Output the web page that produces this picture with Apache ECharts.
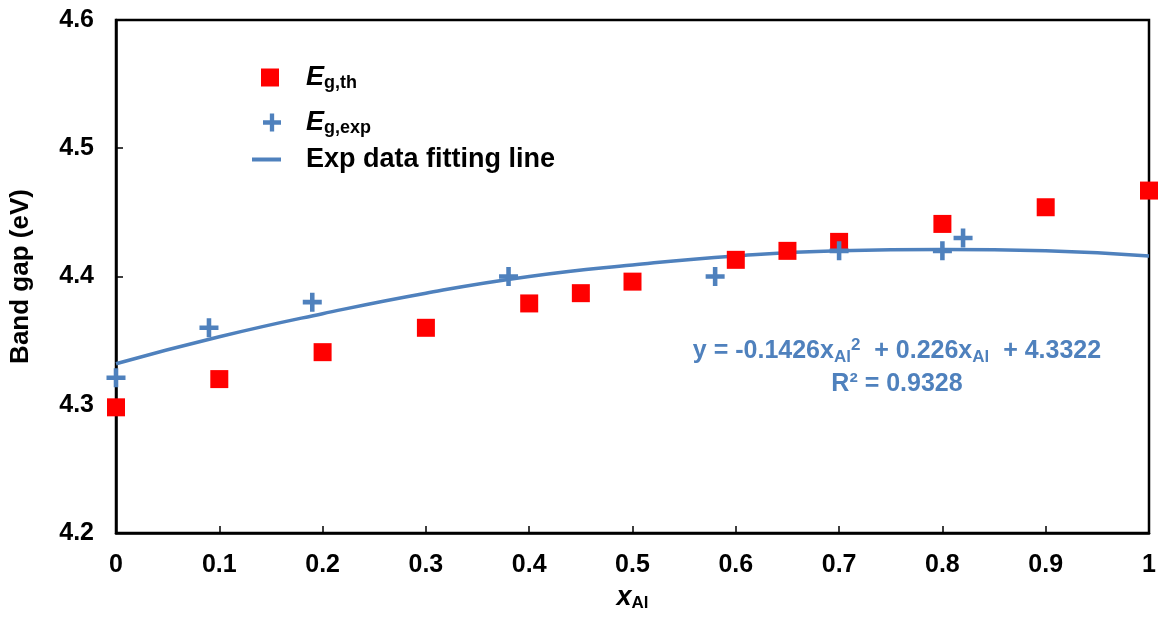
<!DOCTYPE html>
<html><head><meta charset="utf-8">
<script src="https://cdn.jsdelivr.net/npm/echarts@6/dist/echarts.min.js"></script>
<style>html,body{margin:0;padding:0;background:#fff}#c{width:1160px;height:617px}</style>
</head><body><div id="c"></div>
<script>
const thX = [0, 0.1, 0.2, 0.3, 0.4, 0.45, 0.5, 0.6, 0.65, 0.7, 0.8, 0.9, 1.0];
const thY = [4.298, 4.320, 4.341, 4.360, 4.379, 4.387, 4.396, 4.413, 4.420, 4.427, 4.441, 4.454, 4.467];
const expX = [0, 0.09, 0.19, 0.38, 0.58, 0.70, 0.80, 0.82];
const expY = [4.321, 4.360, 4.380, 4.400, 4.400, 4.420, 4.420, 4.430];
const fitX = [0, 0.1, 0.2, 0.3, 0.4, 0.5, 0.6, 0.7, 0.8, 0.9, 1.0];
const fitY = [4.332, 4.353, 4.371, 4.387, 4.400, 4.409, 4.416, 4.420, 4.421, 4.420, 4.416];
const xTicks = ['0','0.1','0.2','0.3','0.4','0.5','0.6','0.7','0.8','0.9','1'];
const yTicks = ['4.2','4.3','4.4','4.5','4.6'];

const BLUE = '#4f81bd', RED = '#ff0000';
const FONT = 'Liberation Sans, Arial, sans-serif';
const PLUS = 'path://M3.8,0H6.2V3.8H10V6.2H6.2V10H3.8V6.2H0V3.8H3.8Z';
const SQUARE = 'path://M0,0H10V10H0Z';
const LINEICON = 'path://M0,0H29V4H0Z';
const zip = (a, b) => a.map((v, i) => [v, b[i]]);

const legendText = (padLeft) => ({
  color: '#000', fontFamily: FONT, fontWeight: 'bold', padding: [0, 0, 0, padLeft],
  rich: {
    i: {fontSize: 27, fontStyle: 'italic', fontWeight: 'bold', fontFamily: FONT, color: '#000'},
    s: {fontSize: 18, fontWeight: 'bold', fontFamily: FONT, color: '#000', padding: [12, 0, 0, 0]},
    t: {fontSize: 27, fontWeight: 'bold', fontFamily: FONT, color: '#000'}
  }
});
const mkLegend = (name, icon, left, top, w, padLeft, fmt) => ({
  orient: 'vertical', left: left, top: top, itemWidth: w, itemHeight: 18, padding: 0,
  symbolKeepAspect: true, data: [{name: name, icon: icon}],
  formatter: () => fmt, textStyle: legendText(padLeft)
});

const chart = echarts.init(document.getElementById('c'), null, {renderer: 'canvas'});
chart.setOption({
  animation: false,
  backgroundColor: '#fff',
  textStyle: {fontFamily: FONT},
  grid: {left: 115, right: 11, top: 20, bottom: 82, show: true, borderColor: '#000', borderWidth: 2.5},
  xAxis: {
    type: 'value', min: 0, max: 1, interval: 0.1,
    name: '{x|x}{s|Al}', nameLocation: 'middle', nameGap: 50,
    nameTextStyle: {rich: {
      x: {fontSize: 27, fontStyle: 'italic', fontWeight: 'bold', fontFamily: FONT, color: '#000'},
      s: {fontSize: 17, fontWeight: 'bold', fontFamily: FONT, color: '#000', padding: [12, 0, 0, 0]}}},
    axisLine: {onZero: false, lineStyle: {color: '#000', width: 2.5}},
    axisTick: {inside: true, length: 7, lineStyle: {color: '#000', width: 1.5}},
    splitLine: {show: false},
    axisLabel: {color: '#000', fontSize: 25, fontWeight: 'bold', fontFamily: FONT, margin: 20,
      formatter: (v) => xTicks[Math.round(v * 10)]}
  },
  yAxis: {
    type: 'value', min: 4.2, max: 4.6, interval: 0.1,
    name: 'Band gap (eV)', nameLocation: 'middle', nameGap: 82, nameRotate: 90,
    nameTextStyle: {color: '#000', fontSize: 26, fontWeight: 'bold', fontFamily: FONT},
    axisLine: {lineStyle: {color: '#000', width: 2.5}},
    axisTick: {inside: true, length: 7, lineStyle: {color: '#000', width: 1.5}},
    splitLine: {show: false},
    axisLabel: {color: '#000', fontSize: 25, fontWeight: 'bold', fontFamily: FONT, margin: 22,
      formatter: (v) => yTicks[Math.round((v - 4.2) * 10)]}
  },
  legend: [
    mkLegend('th', SQUARE, 261, 64, 18, 22, '{i|E}{s|g,th}'),
    mkLegend('exp', PLUS, 263, 109, 18, 20, '{i|E}{s|g,exp}'),
    mkLegend('fit', LINEICON, 252, 146, 29, 20, '{t|Exp data fitting line}')
  ],
  series: [
    {name: 'fit', type: 'line', data: zip(fitX, fitY), smooth: true, showSymbol: false, symbol: 'none',
      lineStyle: {color: BLUE, width: 3.5}, itemStyle: {color: BLUE}, z: 2},
    {name: 'th', type: 'scatter', data: zip(thX, thY), symbol: 'rect', symbolSize: 18,
      itemStyle: {color: RED, opacity: 1}, z: 3},
    {name: 'exp', type: 'scatter', data: zip(expX, expY), symbol: PLUS, symbolSize: 19,
      itemStyle: {color: BLUE, opacity: 1}, z: 4}
  ],
  graphic: [
    {type: 'text', x: 897, y: 351, style: {
      text: '{t|y = -0.1426x}{s|Al}{p|2}{t|  + 0.226x}{s|Al}{t|  + 4.3322}',
      align: 'center', verticalAlign: 'middle', fill: BLUE,
      rich: {t: {fontSize: 25, fontWeight: 'bold', fontFamily: FONT, fill: BLUE},
             s: {fontSize: 17, fontWeight: 'bold', fontFamily: FONT, fill: BLUE, padding: [12, 0, 0, 0]},
             p: {fontSize: 17, fontWeight: 'bold', fontFamily: FONT, fill: BLUE, padding: [0, 0, 12, 0]}}}},
    {type: 'text', x: 897, y: 384, style: {
      text: 'R² = 0.9328', align: 'center', verticalAlign: 'middle',
      fill: BLUE, fontSize: 25, fontWeight: 'bold', fontFamily: FONT}}
  ]
});
</script></body></html>
